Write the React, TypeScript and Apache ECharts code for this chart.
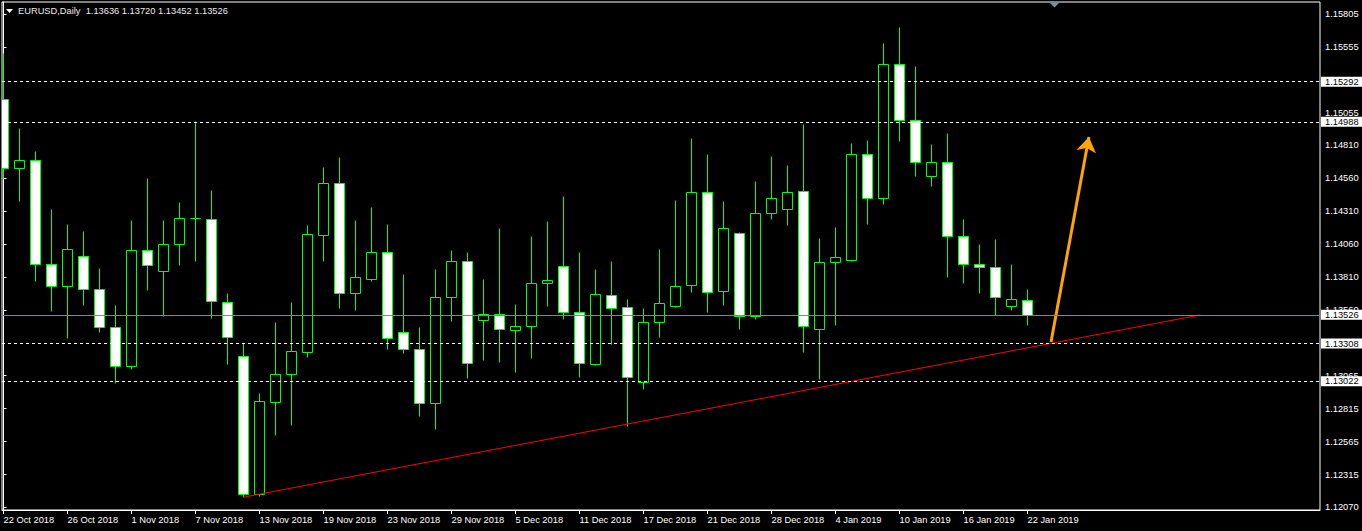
import React, { useEffect, useRef } from "react";
import * as echarts from "echarts";

// ---- data (EURUSD daily, 22 Oct 2018 .. 22 Jan 2019) ----
const openPrices = [
  1.15159, 1.14638, 1.14697, 1.13909, 1.13742, 1.13969, 1.13719, 1.13431, 1.13136, 1.14015,
  1.13856, 1.14060, 1.14257, 1.14250, 1.13621, 1.13212, 1.12166, 1.12863, 1.13075, 1.13242,
  1.14129, 1.14522, 1.13689, 1.13795, 1.14000, 1.13394, 1.13265, 1.12856, 1.13659, 1.13932,
  1.13485, 1.13530, 1.13409, 1.13439, 1.13765, 1.13894, 1.13545, 1.13151, 1.13674, 1.13583,
  1.13015, 1.13469, 1.13591, 1.13750, 1.14454, 1.13704, 1.14144, 1.13515, 1.14295, 1.14325,
  1.14462, 1.13416, 1.13924, 1.13939, 1.14742, 1.14409, 1.15424, 1.15000, 1.14575, 1.14681,
  1.14121, 1.13909, 1.13886, 1.13595, 1.13636,
];
const closePrices = [
  1.14638, 1.14697, 1.13909, 1.13742, 1.14022, 1.13719, 1.13431, 1.13136, 1.14015, 1.13901,
  1.14060, 1.14257, 1.14257, 1.13628, 1.13356, 1.12166, 1.12871, 1.13075, 1.13250, 1.14136,
  1.14522, 1.13689, 1.13810, 1.14000, 1.13348, 1.13265, 1.12856, 1.13659, 1.13932, 1.13159,
  1.13530, 1.13416, 1.13439, 1.13765, 1.13788, 1.13545, 1.13159, 1.13682, 1.13575, 1.13053,
  1.13469, 1.13613, 1.13742, 1.14454, 1.13697, 1.14181, 1.13515, 1.14295, 1.14409, 1.14454,
  1.13439, 1.13924, 1.13962, 1.14742, 1.14409, 1.15424, 1.15000, 1.14681, 1.14681, 1.14121,
  1.13909, 1.13886, 1.13659, 1.13644, 1.13526,
];
const highPrices = [
  1.15507, 1.14941, 1.14767, 1.14328, 1.14214, 1.14161, 1.13881, 1.13600, 1.14244, 1.14563,
  1.14244, 1.14381, 1.14997, 1.14472, 1.13691, 1.13310, 1.12934, 1.13472, 1.13623, 1.14207,
  1.14644, 1.14719, 1.14244, 1.14343, 1.14214, 1.13835, 1.13434, 1.13873, 1.14017, 1.14002,
  1.13797, 1.14184, 1.13608, 1.14123, 1.14237, 1.14426, 1.14002, 1.13873, 1.13934, 1.13646,
  1.13578, 1.14025, 1.14396, 1.14866, 1.14744, 1.14388, 1.14153, 1.14540, 1.14729, 1.14661,
  1.14972, 1.14108, 1.14191, 1.14828, 1.14850, 1.15585, 1.15707, 1.15411, 1.14820, 1.14903,
  1.14252, 1.14063, 1.14100, 1.13911, 1.13720,
];
const lowPrices = [
  1.14560, 1.14391, 1.13785, 1.13557, 1.13353, 1.13603, 1.13398, 1.13012, 1.13118, 1.13716,
  1.13519, 1.13906, 1.13936, 1.13504, 1.13156, 1.12144, 1.12156, 1.12618, 1.12694, 1.13209,
  1.13936, 1.13580, 1.13565, 1.13782, 1.13269, 1.13239, 1.12762, 1.12663, 1.13482, 1.13050,
  1.13186, 1.13171, 1.13095, 1.13201, 1.13595, 1.13497, 1.13057, 1.13144, 1.13303, 1.12684,
  1.12966, 1.13360, 1.13585, 1.13701, 1.13550, 1.13603, 1.13421, 1.13497, 1.14250, 1.14209,
  1.13247, 1.13042, 1.13451, 1.13934, 1.14216, 1.14368, 1.14845, 1.14580, 1.14504, 1.13815,
  1.13769, 1.13694, 1.13527, 1.13565, 1.13452,
];

const xTickIndex = [0, 4, 8, 12, 16, 20, 24, 28, 32, 36, 40, 44, 48, 52, 56, 60, 64];
const xTickLabels = [
  "22 Oct 2018", "26 Oct 2018", "1 Nov 2018", "7 Nov 2018", "13 Nov 2018", "19 Nov 2018",
  "23 Nov 2018", "29 Nov 2018", "5 Dec 2018", "11 Dec 2018", "17 Dec 2018", "21 Dec 2018",
  "28 Dec 2018", "4 Jan 2019", "10 Jan 2019", "16 Jan 2019", "22 Jan 2019",
];
const yTickValues = [
  1.15805, 1.15555, 1.15055, 1.1481, 1.1456, 1.1431, 1.1406, 1.1381, 1.1356, 1.13065,
  1.12815, 1.12565, 1.12315, 1.1207,
];
const dashedLevels = [1.15292, 1.14988, 1.13308, 1.13022];
const bidPrice = 1.13526;
const trendLinePoints = [
  [15, 1.12144],
  [74.8, 1.13525],
];
const arrowPoints = [
  [65.47, 1.1332],
  [67.84, 1.14873],
];
const titleText = "EURUSD,Daily  1.13636 1.13720 1.13452 1.13526";

const FONT = "'Liberation Sans', Arial, sans-serif";
const FS = 9.3;
const GREEN = "#00ff00";

export default function App() {
  const ref = useRef<HTMLDivElement>(null);

  useEffect(() => {
    if (!ref.current) return;
    const chart = echarts.init(ref.current, undefined, { renderer: "svg" });

    const candles = openPrices.map((o, i) => [i, o, closePrices[i], lowPrices[i], highPrices[i]]);

    const levelLabel = {
      show: true,
      position: "end" as const,
      distance: 1,
      formatter: (p: any) => Number(p.value).toFixed(5),
      backgroundColor: "#ffffff",
      color: "#000000",
      fontFamily: FONT,
      fontSize: FS,
      padding: [1, 4, 0, 4],
      lineHeight: 9,
    };

    const markData: any[] = dashedLevels.map((v) => ({
      yAxis: v,
      lineStyle: { color: "#ffffff", type: [3, 3], width: 1 },
      label: levelLabel,
    }));
    markData.push({
      yAxis: bidPrice,
      lineStyle: { color: "#778899", type: "solid", width: 1 },
      label: levelLabel,
    });

    const renderCandle = (params: any, api: any) => {
      const i = api.value(0);
      const o = api.value(1);
      const c = api.value(2);
      const l = api.value(3);
      const h = api.value(4);
      const po = api.coord([i, o]);
      const pc = api.coord([i, c]);
      const pl = api.coord([i, l]);
      const ph = api.coord([i, h]);
      const cx = Math.floor(po[0] + 0.001) + 0.5;
      const yTop = Math.round(Math.min(po[1], pc[1])) + 0.5;
      const yBot = Math.round(Math.max(po[1], pc[1])) + 0.5;
      const bull = c >= o;
      return {
        type: "group",
        children: [
          {
            type: "line",
            shape: { x1: cx, y1: Math.round(ph[1]) + 0.5, x2: cx, y2: Math.round(pl[1]) + 0.5 },
            style: { stroke: GREEN, lineWidth: 1 },
          },
          {
            type: "rect",
            shape: { x: cx - 5, y: yTop, width: 10, height: yBot - yTop },
            style: { fill: bull ? "#000000" : "#ffffff", stroke: GREEN, lineWidth: 1 },
          },
        ],
      };
    };

    chart.setOption({
      animation: false,
      backgroundColor: "#000000",
      grid: {
        left: 2,
        right: 42,
        top: 2,
        bottom: 21,
        show: true,
        borderColor: "#ffffff",
        borderWidth: 1,
        backgroundColor: "#000000",
      },
      xAxis: {
        type: "value",
        min: -0.09375,
        max: 82.28125,
        axisLine: { show: true, lineStyle: { color: "#ffffff", width: 1 } },
        axisTick: {
          show: true,
          length: 4,
          customValues: xTickIndex,
          lineStyle: { color: "#ffffff" },
        },
        splitLine: { show: false },
        axisLabel: {
          customValues: xTickIndex,
          formatter: (v: number) => xTickLabels[xTickIndex.indexOf(Math.round(v))] ?? "",
          color: "#ffffff",
          fontFamily: FONT,
          fontSize: FS,
          align: "left",
          margin: 5,
        },
      },
      yAxis: {
        type: "value",
        position: "right",
        min: 1.12047,
        max: 1.15896,
        scale: true,
        axisLine: { show: true, lineStyle: { color: "#ffffff", width: 1 } },
        axisTick: {
          show: true,
          length: 3,
          customValues: yTickValues,
          lineStyle: { color: "#ffffff" },
        },
        splitLine: { show: false },
        axisLabel: {
          customValues: yTickValues,
          formatter: (v: number) => v.toFixed(5),
          color: "#ffffff",
          fontFamily: FONT,
          fontSize: FS,
          margin: 5,
        },
      },
      series: [
        {
          type: "custom",
          data: candles,
          encode: { x: 0, y: [1, 2, 3, 4] },
          renderItem: renderCandle,
          clip: true,
          z: 2,
        },
        {
          type: "line",
          data: trendLinePoints,
          showSymbol: false,
          symbol: "none",
          lineStyle: { color: "#ff0000", width: 1 },
          markLine: {
            silent: true,
            precision: 5,
            symbol: ["none", "none"],
            data: markData,
          },
          z: 3,
        },
        {
          type: "lines",
          coordinateSystem: "cartesian2d",
          data: [{ coords: arrowPoints }],
          symbol: ["none", "arrow"],
          symbolSize: 15,
          lineStyle: { color: "#ffa500", width: 3, opacity: 1, curveness: 0 },
          z: 4,
        },
      ],
      graphic: [
        {
          type: "polygon",
          shape: { points: [[6, 9], [13, 9], [9.5, 13]] },
          style: { fill: "#ffffff" },
        },
        {
          type: "text",
          left: 18,
          top: 6,
          style: {
            text: titleText,
            fill: "#ececec",
            font: `${FS}px ${FONT}`,
          },
        },
        {
          type: "polygon",
          shape: { points: [[1050, 3], [1059, 3], [1054.5, 7.5]] },
          style: { fill: "#7c8ea0" },
        },
      ],
    });

    return () => chart.dispose();
  }, []);

  return (
    <div
      ref={ref}
      style={{ position: "absolute", left: 0, top: 0, width: 1362, height: 531, background: "#000" }}
    />
  );
}
